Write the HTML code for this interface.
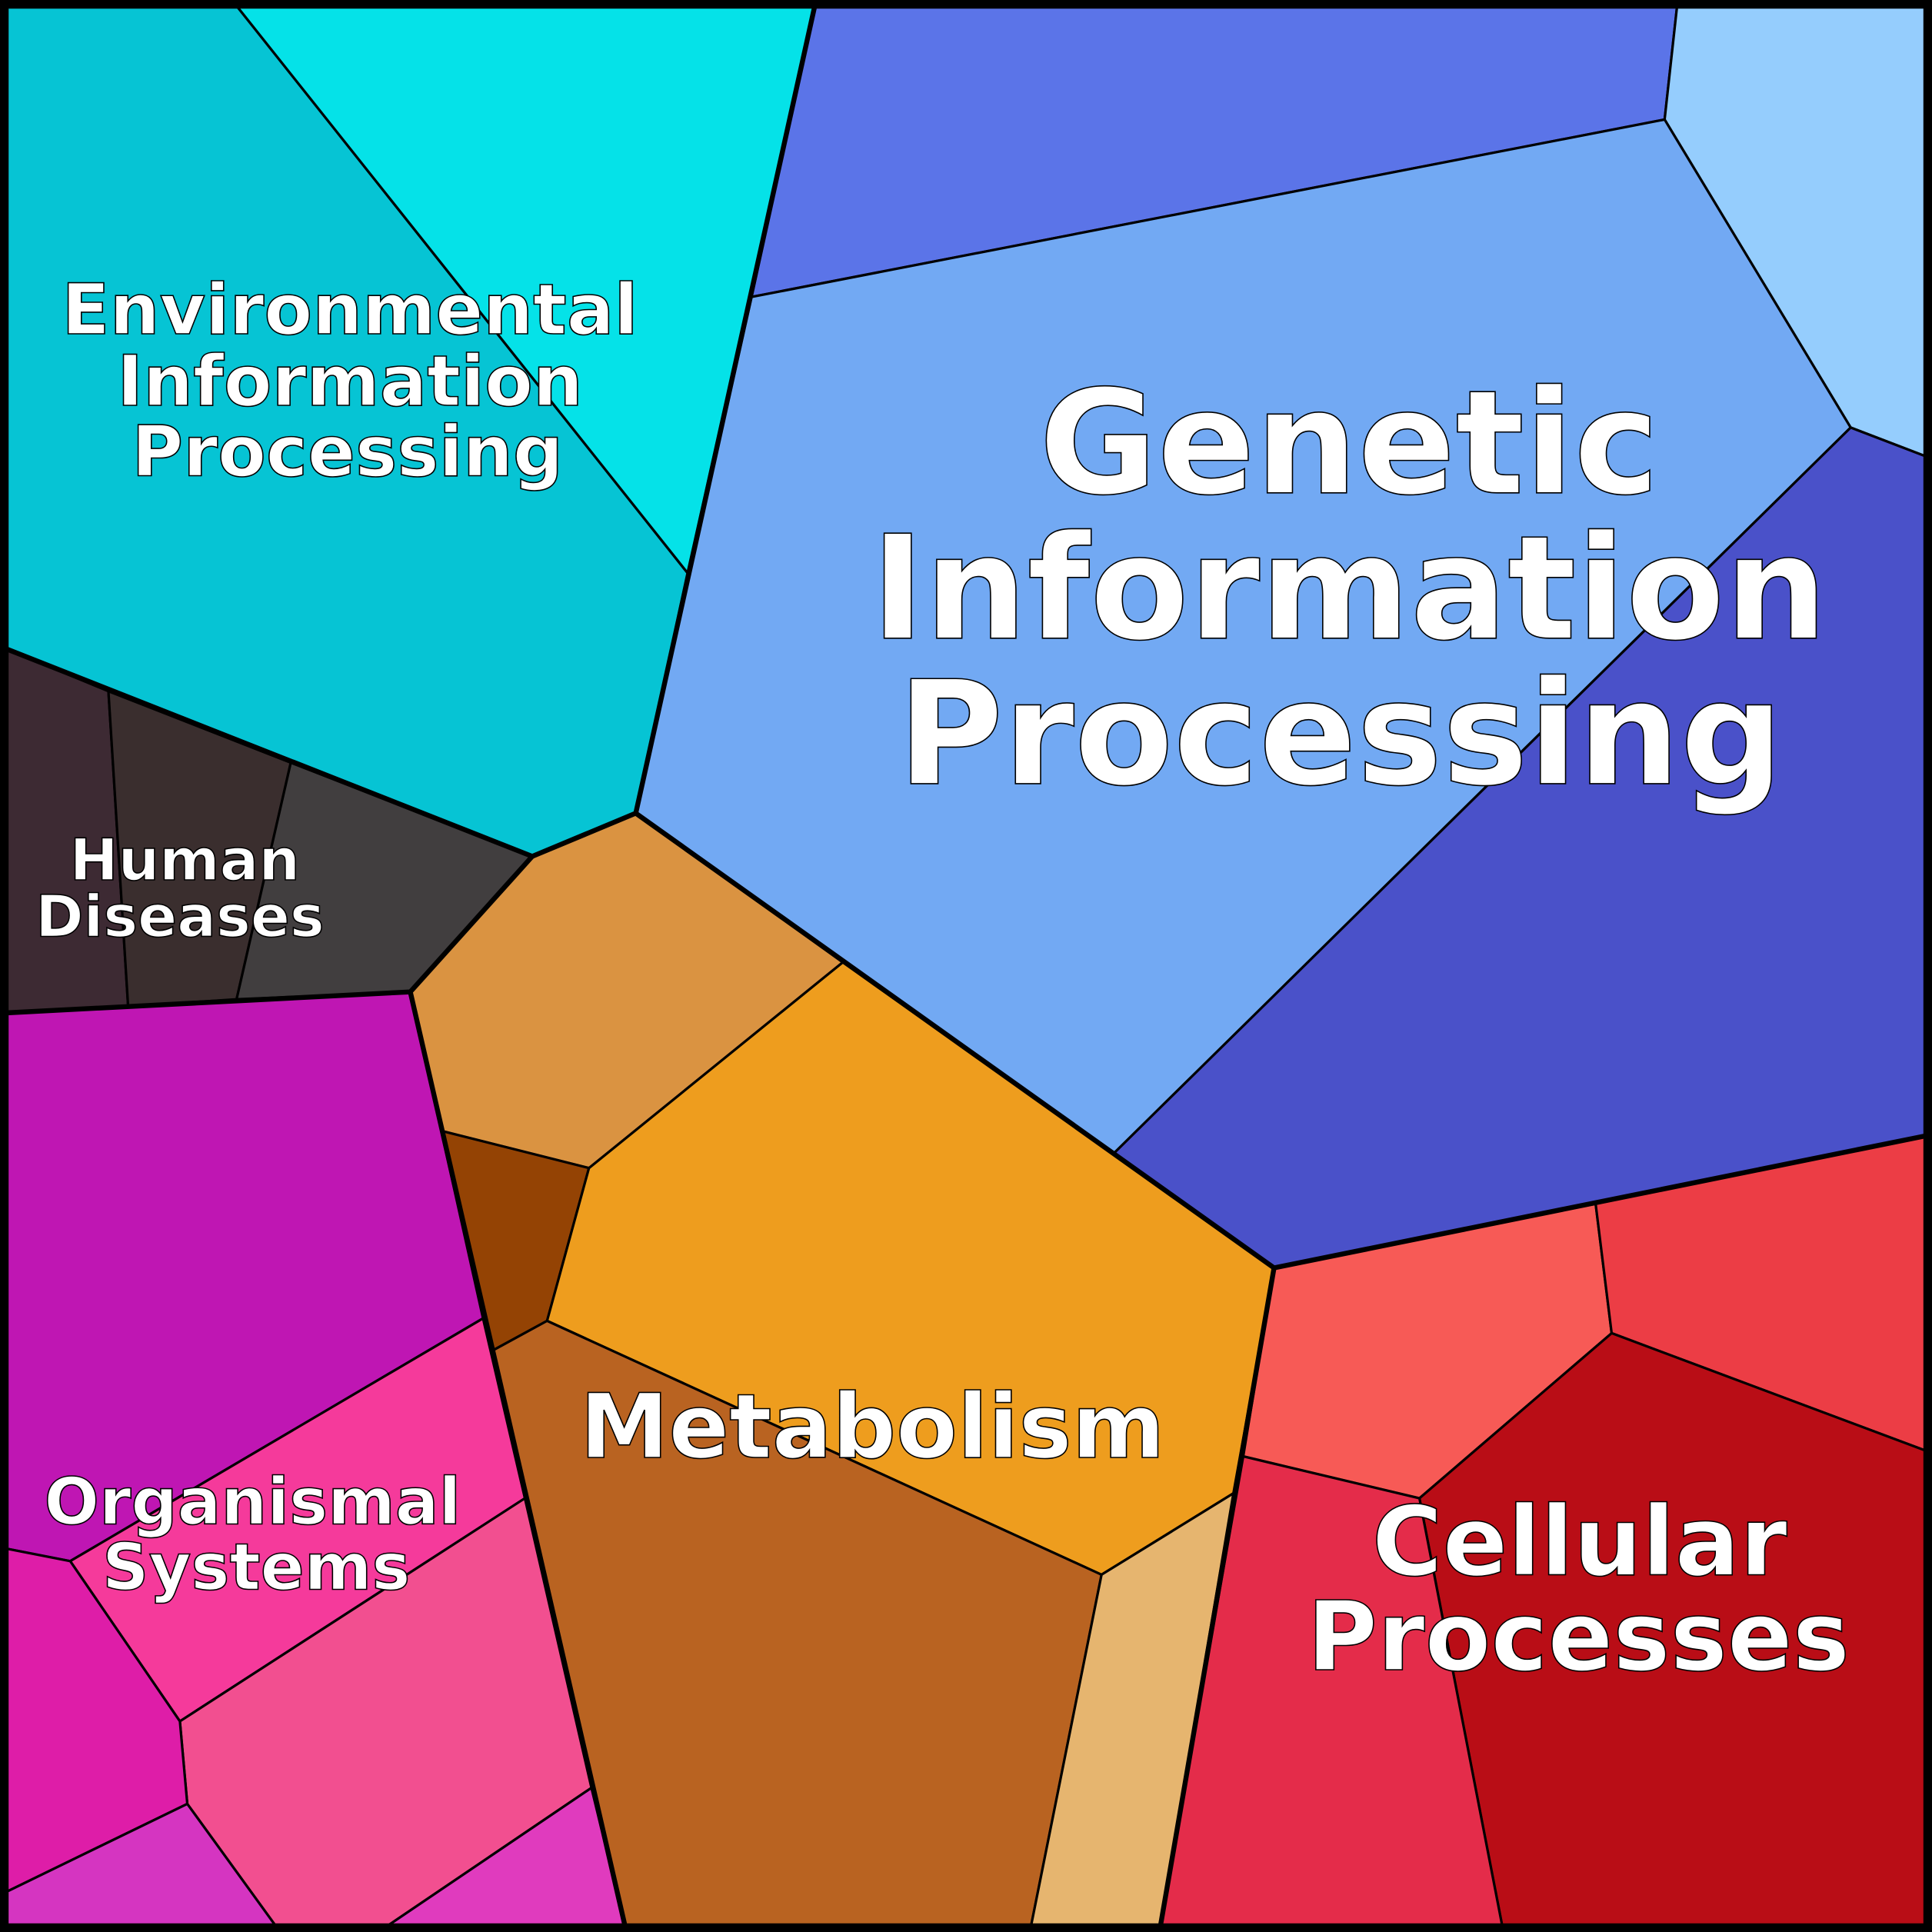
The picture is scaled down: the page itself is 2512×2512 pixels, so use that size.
<!DOCTYPE html>
<html><head><meta charset="utf-8"><style>html,body{margin:0;padding:0;background:#fff}svg{display:block}</style></head><body>
<svg xmlns="http://www.w3.org/2000/svg" width="2512" height="2512" viewBox="0 0 1568 1568">
<g stroke="#000" stroke-width="2" stroke-linejoin="round">
<polygon fill="#06C4D4" points="6,6 193,6 558,465 516,660 432,695 6,527"/>
<polygon fill="#05E2E8" points="193,6 661,6 558,465"/>
<polygon fill="#5B74E8" points="661,6 1361,6 1351,97 610,241"/>
<polygon fill="#95CDFD" points="1361,6 1562,6 1562,370 1502,347 1351,97"/>
<polygon fill="#72A9F3" points="610,241 1351,97 1502,347 903,937 684,781 516,660"/>
<polygon fill="#4A51C9" points="1502,347 1562,370 1562,922 1034,1029 903,937"/>
<polygon fill="#3D2A33" points="6,527 88,561 104,817 6,822"/>
<polygon fill="#3A2E2E" points="88,561 236,619 192,811 104,817"/>
<polygon fill="#413E3F" points="236,619 432,695 333,805 192,811"/>
<polygon fill="#DA9341" points="432,695 516,660 684,781 478,948 359,918 333,805"/>
<polygon fill="#944304" points="359,918 478,948 444,1072 400,1096"/>
<polygon fill="#EE9D1E" points="478,948 684,781 1034,1029 1001,1212 894,1278 444,1072"/>
<polygon fill="#B96321" points="400,1096 444,1072 894,1278 837,1562 507,1562"/>
<polygon fill="#E6B56F" points="894,1278 1001,1212 942,1562 837,1562"/>
<polygon fill="#BF16B3" points="6,822 333,805 392,1070 57,1267 6,1257"/>
<polygon fill="#F53A9B" points="392,1070 426,1216 146,1397 57,1267"/>
<polygon fill="#F24F90" points="426,1216 480,1451 316,1562 223,1562 152,1464 146,1397"/>
<polygon fill="#E03BBE" points="480,1451 507,1562 316,1562"/>
<polygon fill="#DE1DA8" points="6,1257 57,1267 146,1397 152,1464 6,1535"/>
<polygon fill="#D535C1" points="6,1535 152,1464 223,1562 6,1562"/>
<polygon fill="#F75A56" points="1034,1029 1295,977 1308,1082 1152,1216 1009,1182"/>
<polygon fill="#EC3D45" points="1295,977 1562,922 1562,1177 1308,1082"/>
<polygon fill="#B90D16" points="1308,1082 1562,1177 1562,1562 1219,1562 1152,1216"/>
<polygon fill="#E42C4A" points="1009,1182 1152,1216 1219,1562 942,1562"/>
</g>
<g stroke="#000" stroke-width="4" fill="none" stroke-linejoin="round" stroke-linecap="round">
<polyline points="661,6 516,660 432,695 6,527"/>
<polyline points="516,660 1034,1029 1562,922"/>
<polyline points="1034,1029 942,1562"/>
<polyline points="432,695 333,805 6,822"/>
<polyline points="333,805 507,1562"/>
</g>
<rect x="3" y="3" width="1562" height="1562" fill="none" stroke="#000" stroke-width="6"/>
<g font-family="'DejaVu Sans','Liberation Sans',sans-serif" font-weight="bold" fill="#fff" stroke="#000" stroke-width="1" text-anchor="middle">
<g font-size="117"><text x="1095" y="400">Genetic</text><text x="1095" y="518">Information</text><text x="1088" y="636">Processing</text></g>
<text x="708" y="1183" font-size="72.5">Metabolism</text>
<g font-size="78"><text x="1282" y="1278">Cellular</text><text x="1281" y="1355">Processes</text></g>
<g font-size="57"><text x="284" y="271">Environmental</text><text x="284" y="329">Information</text><text x="282" y="386">Processing</text></g>
<g font-size="47"><text x="150" y="714">Human</text><text x="146" y="760">Diseases</text></g>
<g font-size="52.5"><text x="205" y="1237">Organismal</text><text x="208" y="1290">Systems</text></g>
</g>
</svg>
</body></html>
